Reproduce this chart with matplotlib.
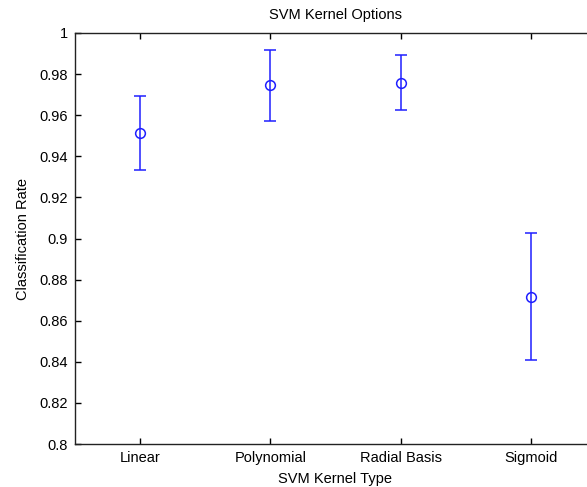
import numpy as np
import matplotlib
matplotlib.use('Agg')
import matplotlib.pyplot as plt

plt.rcParams['font.family'] = ['Liberation Sans', 'DejaVu Sans']

# data
kernels = ['Linear', 'Polynomial', 'Radial Basis', 'Sigmoid']
means = [0.9515, 0.9745, 0.9757, 0.8715]
lower = [0.9335, 0.9573, 0.9625, 0.8408]
upper = [0.9695, 0.9918, 0.9893, 0.9025]
yticks = [0.8, 0.82, 0.84, 0.86, 0.88, 0.9, 0.92, 0.94, 0.96, 0.98, 1]
ytick_labels = ['0.8', '0.82', '0.84', '0.86', '0.88', '0.9', '0.92', '0.94', '0.96', '0.98', '1']

x = np.arange(1, len(kernels) + 1)
means = np.array(means)
err = [means - np.array(lower), np.array(upper) - means]

fig = plt.figure(figsize=(5.87, 4.87), dpi=100)
# axes run past the right edge like the cropped original
ax = fig.add_axes([75/587, 43/487, 521/587, 411/487])

ax.errorbar(x, means, yerr=err, fmt='o', color='#1f1fff', mfc='none',
            markersize=7, capsize=4.5, elinewidth=1.1, capthick=1.1, mew=1.1)

ax.set_xlim(0.5, 4.5)
ax.set_ylim(0.8, 1.0)
ax.set_xticks(x)
ax.set_xticklabels(kernels)
ax.set_yticks(yticks)
ax.set_yticklabels(ytick_labels)
ax.tick_params(direction='in', length=4, width=1, top=True, right=True,
               labelsize=10.5, pad=5)
for s in ax.spines.values():
    s.set_linewidth(1)
    s.set_color('#222222')

ax.set_title('SVM Kernel Options', fontsize=10.5, pad=10)
ax.set_xlabel('SVM Kernel Type', fontsize=10.5, labelpad=5)
ax.set_ylabel('Classification Rate', fontsize=10.5, labelpad=7)

fig.savefig('out.png', dpi=100)
